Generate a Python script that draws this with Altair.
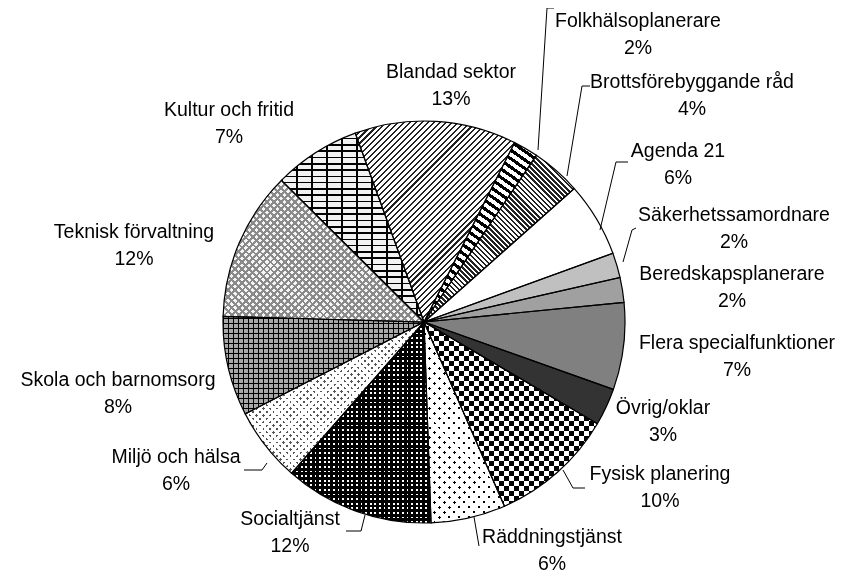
import math
import altair as alt
import pandas as pd

# ---------------- data ----------------
categories = ["Blandad sektor", "Folkhälsoplanerare", "Brottsförebyggande råd", "Agenda 21",
              "Säkerhetssamordnare", "Beredskapsplanerare", "Flera specialfunktioner",
              "Övrig/oklar", "Fysisk planering", "Räddningstjänst", "Socialtjänst",
              "Miljö och hälsa", "Skola och barnomsorg", "Teknisk förvaltning", "Kultur och fritid"]
percent = [13, 2, 4, 6, 2, 2, 7, 3, 10, 6, 12, 6, 8, 12, 7]

# ---------------- layout ----------------
CX, CY = 416, 314          # pie centre inside plot area
R = 201                    # pie radius
START_DEG = -20            # angle where first slice starts (0 = 12 o'clock, clockwise)
FONT = "Liberation Sans"
FONT_SIZE = 19.5
LINE_H = 27

# label first-line centres, offsets from pie centre
label_offset = {
    "Blandad sektor": (27, -250), "Folkhälsoplanerare": (214, -301),
    "Brottsförebyggande råd": (268, -240), "Agenda 21": (254, -171),
    "Säkerhetssamordnare": (310, -107), "Beredskapsplanerare": (308, -48),
    "Flera specialfunktioner": (313, 21), "Övrig/oklar": (239, 86),
    "Fysisk planering": (236, 152), "Räddningstjänst": (128, 215),
    "Socialtjänst": (-134, 197), "Miljö och hälsa": (-248, 135),
    "Skola och barnomsorg": (-306, 58), "Teknisk förvaltning": (-290, -90),
    "Kultur och fritid": (-195, -212),
}
# leader lines (polylines, offsets from pie centre)
leaders = {
    "Folkhälsoplanerare": [(114, -172), (123, -314), (130, -314)],
    "Brottsförebyggande råd": [(143, -146), (158, -236), (166, -236)],
    "Agenda 21": [(176, -92), (192, -160), (204, -160)],
    "Säkerhetssamordnare": [(199, -60), (208, -92), (212, -94)],
    "Fysisk planering": [(139, 148), (149, 166), (161, 166)],
    "Räddningstjänst": [(50, 195), (55, 224)],
    "Socialtjänst": [(-59, 193), (-63, 209), (-78, 209)],
    "Miljö och hälsa": [(-157, 141), (-162, 148), (-180, 148)],
}

# ---------------- table ----------------
rows = []
cum = 0
for c, p in zip(categories, percent):
    a0 = math.radians(START_DEG + 3.6 * cum)
    a1 = math.radians(START_DEG + 3.6 * (cum + p))
    cum += p
    dx, dy = label_offset[c]
    rows.append({"cat": c, "pct": p, "a0": a0, "a1": a1,
                 "txt": f"{c}\n{p}%", "lx": CX + dx, "ly": CY + dy})
df = pd.DataFrame(rows)

lead_rows = []
for c, pts in leaders.items():
    for i, (dx, dy) in enumerate(pts):
        lead_rows.append({"grp": c, "seq": i, "x": CX + dx, "y": CY + dy})
df_lead = pd.DataFrame(lead_rows)


# ---------------- pattern helpers ----------------
def arc_bbox(a0, a1, r):
    angs = [a0, a1] + [k * math.pi / 2 for k in range(-4, 9) if a0 < k * math.pi / 2 < a1]
    xs = [0.0] + [r * math.sin(a) for a in angs]
    ys = [0.0] + [-r * math.cos(a) for a in angs]
    return max(xs) - min(xs), max(ys) - min(ys)


def stripes(W, H, deg, period, frac, ink, paper):
    dx, dy = math.cos(math.radians(deg)), math.sin(math.radians(deg))
    gx, gy = dy / H, -dx / W
    g2 = gx * gx + gy * gy
    ts = [(cx * gx + cy * gy) / g2 for cx in (0, 1) for cy in (0, 1)]
    t0, t1 = min(ts), max(ts)
    span_px = (t1 - t0) / (math.hypot(gx / W, gy / H) / g2)
    stops = []
    k = 0
    while k * period < span_px:
        a = k * period / span_px
        b = min((k * period + frac * period) / span_px, 1.0)
        c = min((k + 1) * period / span_px, 1.0)
        stops += [(a, ink), (b, ink), (b, paper), (c, paper)]
        k += 1
    return {"gradient": "linear", "x1": t0 * gx, "y1": t0 * gy, "x2": t1 * gx, "y2": t1 * gy,
            "stops": [{"offset": round(o, 5), "color": col} for o, col in stops]}


def pattern(name, W, H):
    if name == "Blandad sektor":
        return [(stripes(W, H, -45, 4.2, 0.35, "#222222", "#ffffff"), None)]
    if name == "Folkhälsoplanerare":
        return [(stripes(W, H, 35, 7, 0.45, "#000000", "#ffffff"), None)]
    if name == "Brottsförebyggande råd":
        return [(stripes(W, H, 45, 3.6, 0.5, "#222222", "#ffffff"), None)]
    if name == "Agenda 21":
        return [("#ffffff", None)]
    if name == "Säkerhetssamordnare":
        return [("#c0c0c0", None)]
    if name == "Beredskapsplanerare":
        return [("#a0a0a0", None)]
    if name == "Flera specialfunktioner":
        return [("#808080", None)]
    if name == "Övrig/oklar":
        return [("#333333", None)]
    if name == "Fysisk planering":
        return [(stripes(W, H, 90, 10, 0.5, "#000000", "#ffffff"), None),
                (stripes(W, H, 0, 10, 0.5, "#ffffff", "#000000"), "difference")]
    if name == "Räddningstjänst":
        return [(stripes(W, H, 45, 7, 0.3, "#000000", "#ffffff"), None),
                (stripes(W, H, -45, 7, 0.3, "#000000", "#ffffff"), "lighten")]
    if name == "Socialtjänst":
        return [(stripes(W, H, 0, 4.6, 0.38, "#ffffff", "#000000"), None),
                (stripes(W, H, 90, 4.6, 0.38, "#ffffff", "#000000"), "darken")]
    if name == "Miljö och hälsa":
        return [(stripes(W, H, 45, 4.8, 0.38, "#555555", "#ffffff"), None),
                (stripes(W, H, -45, 4.8, 0.38, "#555555", "#ffffff"), "lighten")]
    if name == "Skola och barnomsorg":
        return [(stripes(W, H, 0, 5, 0.25, "#000000", "#a8a8a8"), None),
                (stripes(W, H, 90, 5, 0.25, "#000000", "#a8a8a8"), "darken")]
    if name == "Teknisk förvaltning":
        return [(stripes(W, H, 45, 5, 0.4, "#8a8a8a", "#f4f4f4"), None),
                (stripes(W, H, -45, 5, 0.4, "#8a8a8a", "#f4f4f4"), "darken")]
    if name == "Kultur och fritid":
        return [(stripes(W, H, 0, 6.3, 0.25, "#000000", "#f2f2f2"), None),
                (stripes(W, H, 90, 15, 0.1, "#000000", "#f2f2f2"), "darken")]
    return [("#ffffff", None)]


base = alt.Chart(df)
theta_enc = dict(theta=alt.Theta("a0:Q", scale=None, stack=None),
                 theta2=alt.Theta2("a1:Q"),
                 x=alt.value(CX), y=alt.value(CY))

layers = []
for r in rows:
    W, H = arc_bbox(r["a0"], r["a1"], R)
    for fill, blend in pattern(r["cat"], W, H):
        kw = dict(outerRadius=R, fill=fill, strokeWidth=0)
        if blend:
            kw["blend"] = blend
        layers.append(
            base.transform_filter(alt.datum.cat == r["cat"]).mark_arc(**kw).encode(**theta_enc)
        )

outline = base.mark_arc(outerRadius=R, fill="#ffffff", fillOpacity=0,
                        stroke="#000000", strokeWidth=1.2).encode(**theta_enc)

leader_lines = alt.Chart(df_lead).mark_line(color="#000000", strokeWidth=1).encode(
    x=alt.X("x:Q", scale=None, axis=None),
    y=alt.Y("y:Q", scale=None, axis=None),
    detail="grp:N",
    order="seq:O",
)

labels = base.mark_text(lineBreak="\n", align="center", baseline="middle", font=FONT,
                        fontSize=FONT_SIZE, lineHeight=LINE_H, color="#000000").encode(
    x=alt.X("lx:Q", scale=None, axis=None),
    y=alt.Y("ly:Q", scale=None, axis=None),
    text="txt:N",
)

chart = alt.layer(*layers, outline, leader_lines, labels).properties(
    width=835, height=566, padding=0, autosize="none"
).configure_view(stroke=None)

chart.save("out.html", embed_options={"renderer": "svg", "actions": False})
